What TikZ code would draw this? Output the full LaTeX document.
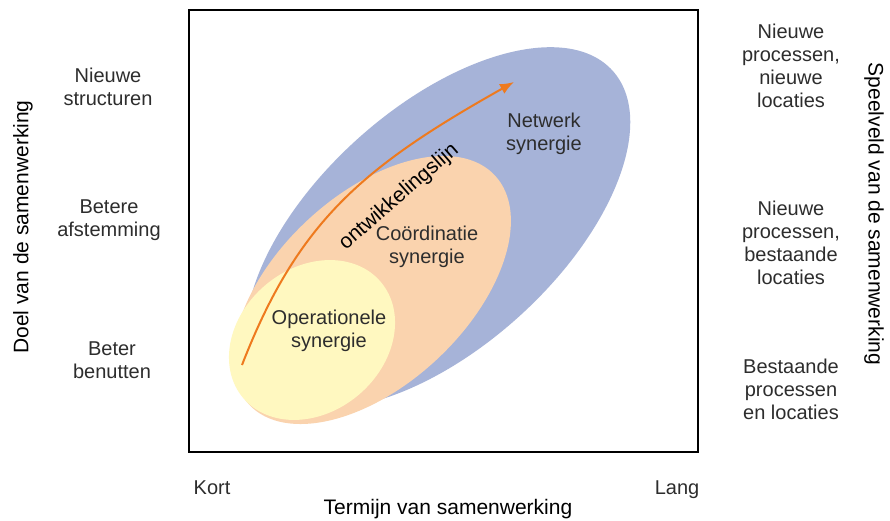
\documentclass[tikz,border=0pt]{standalone}
\usepackage{fontspec}
\setmainfont{Liberation Sans}
\usetikzlibrary{arrows.meta}
\definecolor{netblue}{RGB}{166,179,216}
\definecolor{coorange}{RGB}{250,211,174}
\definecolor{opyellow}{RGB}{255,248,192}
\definecolor{arroworange}{RGB}{238,122,30}
\definecolor{txt}{RGB}{45,45,45}
\begin{document}
\begin{tikzpicture}[x=1pt,y=-1pt,
  lbl/.style={align=center, text=txt, font=\fontsize{20}{23}\selectfont, inner sep=0pt},
  axislbl/.style={text=black, font=\fontsize{21}{24}\selectfont, inner sep=0pt}]
\useasboundingbox (0,0) rectangle (890,521);
\fill[white] (0,0) rectangle (890,521);
% ellipses
\fill[netblue, rotate around={42:(438,228)}] (438,228) ellipse [x radius=235pt, y radius=120pt];
\fill[coorange, rotate around={43:(372,290)}] (372,290) ellipse [x radius=168pt, y radius=95pt];
\fill[opyellow, rotate around={40:(312,340)}] (312,340) ellipse [x radius=90pt, y radius=72pt];
% frame
\draw[line width=2.5pt] (189,10) rectangle (698,452);
% arrow
\coordinate (as) at (242,365);
\coordinate (ae) at (514,82);
\draw[arroworange, line width=2pt, -{Latex[length=14pt,width=11pt]}] (as) .. controls (298,221) and (363,167) .. (ae);
\node[lbl, text=black, font=\fontsize{21}{24}\selectfont, rotate=41] (ont) at (399,197) {ontwikkelingslijn};
% inner labels
\node[lbl] (net) at (544,134) {Netwerk\\synergie};
\node[lbl] (coo) at (427,247) {Coördinatie\\synergie};
\node[lbl] (ope) at (329,331) {Operationele\\synergie};
% left labels
\node[lbl] (ns) at (108,87) {Nieuwe\\structuren};
\node[lbl] (ba) at (109,220) {Betere\\afstemming};
\node[lbl] (bb) at (112,360) {Beter\\benutten};
\node[axislbl, rotate=90] (doel) at (23,227) {Doel van de samenwerking};
% right labels
\node[lbl] (nn) at (791,66) {Nieuwe\\processen,\\nieuwe\\locaties};
\node[lbl] (nb) at (791,243) {Nieuwe\\processen,\\bestaande\\locaties};
\node[lbl] (bp) at (791,389) {Bestaande\\processen\\en locaties};
\node[axislbl, rotate=-90] (spe) at (874,214) {Speelveld van de samenwerking};
% bottom labels
\node[lbl] (kort) at (212,488) {Kort};
\node[lbl] (lang) at (677,490) {Lang};
\node[axislbl] (term) at (448,509) {Termijn van samenwerking};
\end{tikzpicture}
\end{document}
